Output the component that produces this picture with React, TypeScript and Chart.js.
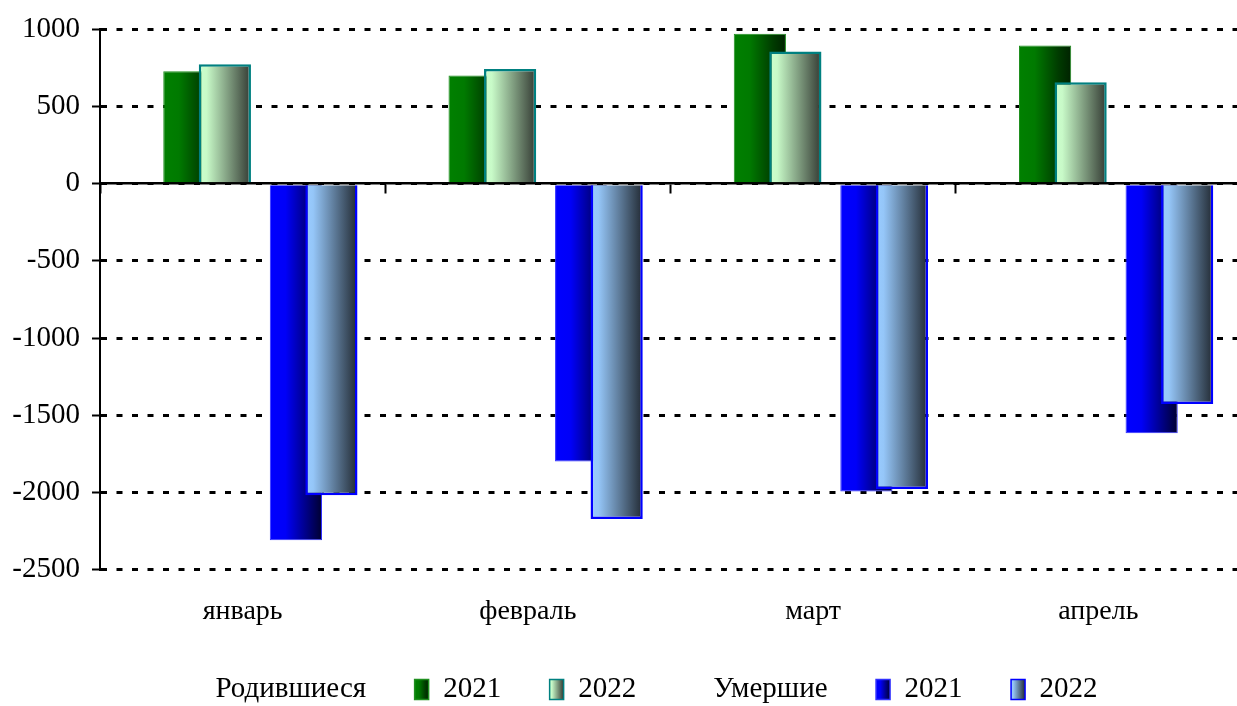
import React, { useEffect, useRef } from 'react';
import { Chart, registerables } from 'chart.js';

Chart.register(...registerables);

// ---- data ----
const months = ['январь', 'февраль', 'март', 'апрель'];
const born2021 = [729, 701, 972, 895];
const born2022 = [774, 744, 856, 658];
const died2021 = [-2310, -1800, -1994, -1617];
const died2022 = [-2019, -2172, -1978, -1428];
const groupLabels = ['Родившиеся', 'Умершие'];
const yearLabels = ['2021', '2022'];
const yMin = -2500;
const yMax = 1000;
const yStep = 500;

// ---- styles ----
const FONT = "'Liberation Serif', 'Times New Roman', serif";
type Stops = [number, string][];
interface SeriesStyle { stops: Stops; solid: string; border: string; bw: number; }

const G21: SeriesStyle = {
  stops: [[0, '#008000'], [0.3, '#007a00'], [0.75, '#003c00'], [1, '#002200']],
  solid: '#006000', border: '#1f8f1f', bw: 1,
};
const G22: SeriesStyle = {
  stops: [[0, '#ccffcc'], [0.15, '#c8fac8'], [1, '#333a33']],
  solid: '#99cc99', border: '#008080', bw: 2.5,
};
const B21: SeriesStyle = {
  stops: [[0, '#0000ff'], [0.3, '#0000f8'], [1, '#000030']],
  solid: '#0000aa', border: '#3030ff', bw: 1,
};
const B22: SeriesStyle = {
  stops: [[0, '#99ccff'], [0.15, '#95c6f8'], [1, '#222a33']],
  solid: '#6688aa', border: '#0000ff', bw: 2.5,
};

function gradientFor(st: SeriesStyle) {
  return (ctx: any) => {
    if (ctx.type !== 'data') return st.solid;
    const chart = ctx.chart;
    const meta = chart.getDatasetMeta(ctx.datasetIndex);
    const el: any = meta && meta.data[ctx.dataIndex];
    if (!el || typeof el.x !== 'number' || isNaN(el.x) || !el.width) return st.solid;
    const g = chart.ctx.createLinearGradient(el.x - el.width / 2, 0, el.x + el.width / 2, 0);
    st.stops.forEach(([o, c]) => g.addColorStop(o, c));
    return g;
  };
}

// legend entries (group captions have no box)
const SP = '      ';
const legendEntries: { text: string; st: SeriesStyle | null }[] = [
  { text: SP + groupLabels[0] + SP, st: null },
  { text: yearLabels[0] + SP, st: G21 },
  { text: yearLabels[1] + SP, st: G22 },
  { text: groupLabels[1] + SP, st: null },
  { text: yearLabels[0] + SP, st: B21 },
  { text: yearLabels[1], st: B22 },
];
const legendCache: number[] = [];
const LEGEND_BOX_W = 14;

export default function App() {
  const ref = useRef<HTMLCanvasElement | null>(null);

  useEffect(() => {
    const canvas = ref.current;
    if (!canvas) return;
    const empty = months.map(() => null);
    const mk = (label: string, data: (number | null)[], st: SeriesStyle | null, stack: string) => ({
      label,
      data,
      stack,
      backgroundColor: st ? gradientFor(st) : 'rgba(0,0,0,0)',
      borderColor: st ? st.border : 'rgba(0,0,0,0)',
      borderWidth: st ? st.bw : 0,
      borderSkipped: 'start' as const,
      categoryPercentage: 0.747,
      barPercentage: 1.47,
    });

    // six slots per month (stack ids s0..s5): [gap, 2021 births, 2022 births, gap, 2021 deaths, 2022 deaths]
    // 2021 series are listed last so that the 2022 bars are painted over them
    const chart = new Chart(canvas, {
      type: 'bar',
      data: {
        labels: months,
        datasets: [
          mk('', empty, null, 's0'),
          mk('', empty, null, 's1'),
          mk(groupLabels[0] + ' ' + yearLabels[1], born2022, G22, 's2'),
          mk('', empty, null, 's3'),
          mk('', empty, null, 's4'),
          mk(groupLabels[1] + ' ' + yearLabels[1], died2022, B22, 's5'),
          mk(groupLabels[0] + ' ' + yearLabels[0], born2021, G21, 's1'),
          mk(groupLabels[1] + ' ' + yearLabels[0], died2021, B21, 's4'),
        ] as any,
      },
      options: {
        animation: false,
        responsive: false,
        events: [],
        layout: { padding: { top: 27, left: 0, right: 0, bottom: 0 } },
        scales: {
          x: {
            type: 'category',
            offset: true,
            grid: { display: false, drawTicks: false },
            border: { display: false },
            ticks: { color: '#000', font: { family: FONT, size: 28 }, padding: 25, maxRotation: 0 },
            afterFit: (s: any) => { s.height = 100.5; },
          },
          x2: {
            type: 'category',
            labels: months,
            position: { y: 0 } as any,
            offset: true,
            grid: {
              display: true,
              drawOnChartArea: false,
              drawTicks: true,
              tickLength: 9,
              tickColor: '#000',
              tickWidth: 2,
              offset: true,
            },
            border: { display: true, color: '#000', width: 2.5 },
            ticks: { display: false },
          },
          y: {
            type: 'linear',
            stacked: false,
            min: yMin,
            max: yMax,
            ticks: {
              stepSize: yStep,
              color: '#000',
              font: { family: FONT, size: 29 },
              padding: 12,
              callback: (v: any) => String(v),
            },
            grid: {
              color: '#000',
              lineWidth: 3,
              drawTicks: true,
              tickLength: 8,
              tickColor: '#000',
              tickWidth: 2,
            },
            border: { display: true, color: '#000', width: 2, dash: [6, 9.5] },
            afterFit: (s: any) => { s.width = 100; },
          },
        } as any,
        plugins: {
          tooltip: { enabled: false },
          legend: {
            position: 'bottom',
            onClick: () => {},
            labels: {
              color: '#000',
              font: { family: FONT, size: 29 },
              boxWidth: LEGEND_BOX_W,
              boxHeight: 20,
              padding: 5,
              generateLabels: (ch: any) => {
                const boxes = (ch.legend && ch.legend.legendHitBoxes) || [];
                return legendEntries.map((en, i) => {
                  const st = en.st;
                  const hb = boxes[i];
                  if (hb && hb.left > 0) legendCache[i] = hb.left;
                  let fill: any = st ? st.solid : 'rgba(0,0,0,0)';
                  if (st && legendCache[i] != null) {
                    const g = ch.ctx.createLinearGradient(legendCache[i], 0, legendCache[i] + LEGEND_BOX_W, 0);
                    st.stops.forEach(([o, c]) => g.addColorStop(o, c));
                    fill = g;
                  }
                  return {
                    text: en.text,
                    fillStyle: fill,
                    strokeStyle: st ? st.border : 'rgba(0,0,0,0)',
                    lineWidth: st ? 1.5 : 0,
                    hidden: false,
                    datasetIndex: i,
                    fontColor: '#000',
                  };
                });
              },
            },
          },
        },
      },
    });
    chart.update();
    chart.update();

    return () => chart.destroy();
  }, []);

  return (
    <div
      style={{
        position: 'fixed',
        left: 0,
        top: 0,
        width: 1237,
        height: 706,
        overflow: 'hidden',
        background: '#fff',
      }}
    >
      <canvas ref={ref} width={1241} height={714} style={{ display: 'block' }} />
    </div>
  );
}
